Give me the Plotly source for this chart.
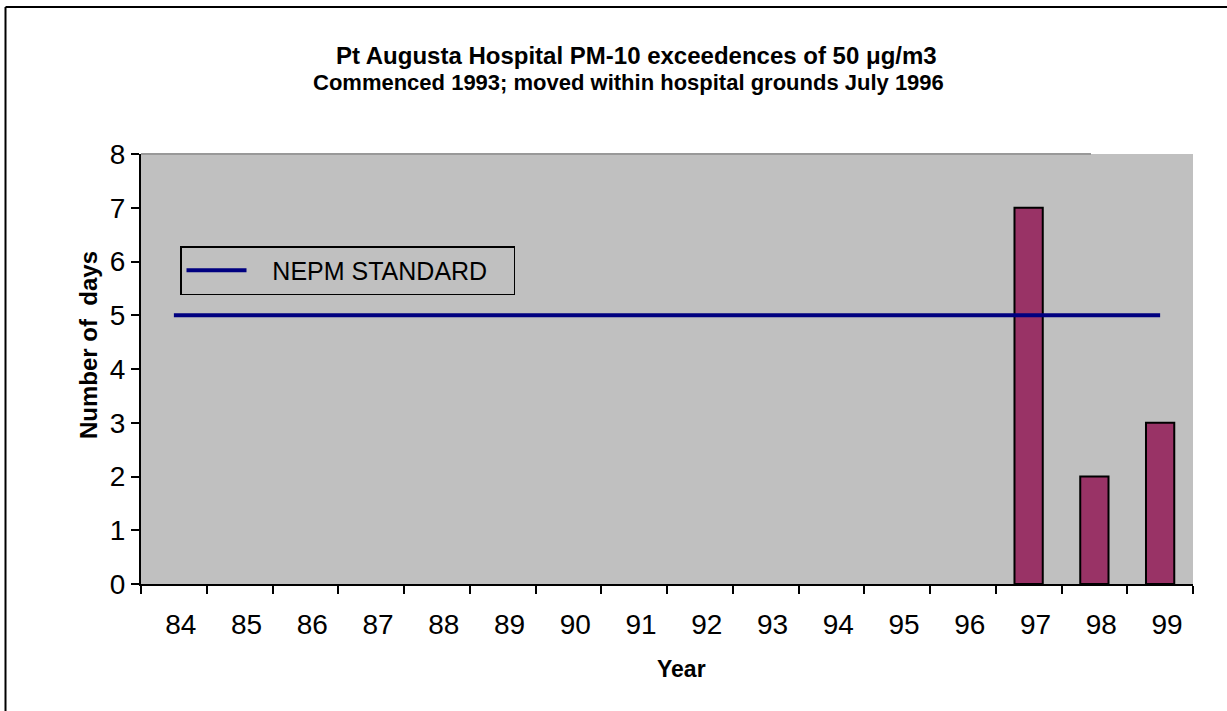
import plotly.graph_objects as go

years = ["84", "85", "86", "87", "88", "89", "90", "91", "92", "93", "94", "95", "96", "97", "98", "99"]
exceedences = [0, 0, 0, 0, 0, 0, 0, 0, 0, 0, 0, 0, 0, 7, 2, 3]
nepm_standard = [5] * len(years)

W, H = 1227, 711
OFF = 0  # body margin removed via post_script
# desired plot area on screen: x 141..1193, y 154..584
SX0, SX1, SY0, SY1 = 141, 1193, 154, 584
L, T = SX0 - OFF, SY0 - OFF
R, B = W - L - (SX1 - SX0), H - T - (SY1 - SY0)
pw, ph = SX1 - SX0, SY1 - SY0

def px_x(sx):
    return (sx - SX0) / pw

def px_y(sy):
    return (SY1 - sy) / ph

NB = "\u00a0"

fig = go.Figure()
fig.add_trace(go.Bar(
    x=years, y=exceedences, width=0.43,
    marker=dict(color="#993366",
                line=dict(color="black", width=[2 if v else 0 for v in exceedences])),
    showlegend=False, name="Exceedences"))
fig.add_trace(go.Scatter(
    x=years, y=nepm_standard, mode="lines", name=NB * 3 + "NEPM STANDARD" + NB * 3,
    line=dict(color="#000080", width=4)))

font = "Liberation Sans, Arial, sans-serif"
fig.update_layout(
    width=W, height=H,
    margin=dict(l=L, r=R, t=T, b=B, autoexpand=False),
    paper_bgcolor="white", plot_bgcolor="#C0C0C0",
    font=dict(family=font, color="black"),
    showlegend=True,
    legend=dict(x=px_x(180), y=px_y(246), xanchor="left", yanchor="top",
                bgcolor="#C0C0C0", bordercolor="black", borderwidth=1.5,
                font=dict(size=25, family=font), itemwidth=60,
                tracegroupgap=0),
    xaxis=dict(type="category", range=[-0.5, 15.5], tickson="boundaries",
               ticks="outside", ticklen=8, tickcolor="black", tickwidth=1.5,
               showline=True, linecolor="black", linewidth=1.5, showgrid=False,
               tickfont=dict(size=28), ticklabelshift=7, ticklabelstandoff=15),
    yaxis=dict(range=[0, 8], dtick=1, ticks="outside", ticklen=8, tickcolor="black",
               tickwidth=1.5, showline=True, linecolor="black", linewidth=2,
               showgrid=False, zeroline=False, tickfont=dict(size=28)),
)

fig.add_annotation(text="<b>Pt Augusta Hospital PM-10 exceedences of 50 \u03bcg/m3</b>",
                   xref="paper", yref="paper", x=px_x(636), y=px_y(55),
                   showarrow=False, font=dict(size=24), xanchor="center", yanchor="middle")
fig.add_annotation(text="<b>Commenced 1993; moved within hospital grounds July 1996</b>",
                   xref="paper", yref="paper", x=px_x(628), y=px_y(82),
                   showarrow=False, font=dict(size=22), xanchor="center", yanchor="middle")
fig.add_annotation(text="<b>Year</b>", xref="paper", yref="paper",
                   x=px_x(681), y=px_y(669), showarrow=False, font=dict(size=23),
                   xanchor="center", yanchor="middle")
fig.add_annotation(text="<b>Number of  days</b>", xref="paper", yref="paper",
                   x=px_x(88), y=px_y(345), showarrow=False, font=dict(size=24),
                   textangle=-90, xanchor="center", yanchor="middle")

# outer border (top and left edges visible)
fig.add_shape(type="line", xref="paper", yref="paper", x0=px_x(5.5), x1=px_x(1240),
              y0=px_y(7), y1=px_y(7), line=dict(color="black", width=2))
fig.add_shape(type="line", xref="paper", yref="paper", x0=px_x(5.5), x1=px_x(5.5),
              y0=px_y(7), y1=px_y(720), line=dict(color="black", width=2))
# darker top edge of plot area
fig.add_shape(type="line", xref="paper", yref="paper", x0=0, x1=px_x(1091),
              y0=1, y1=1, line=dict(color="#999999", width=2))

fig.write_html("out.html", config={"displayModeBar": False},
               post_script="document.body.style.margin='0px';")
